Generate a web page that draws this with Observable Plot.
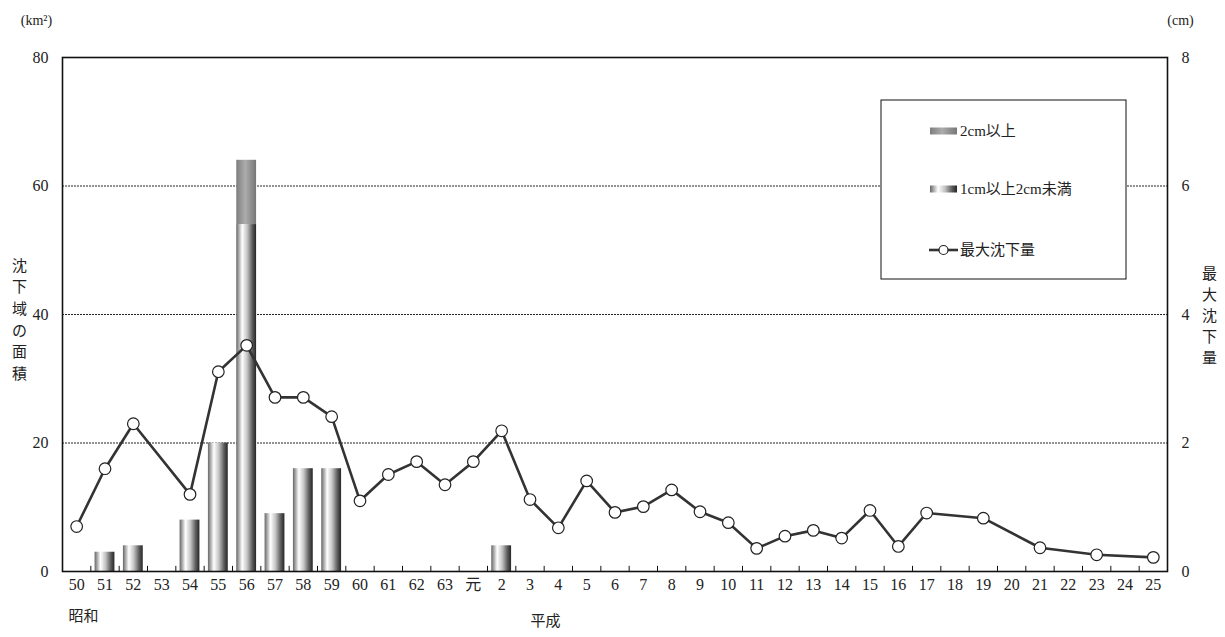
<!DOCTYPE html>
<html>
<head>
<meta charset="utf-8">
<script src="https://cdn.jsdelivr.net/npm/d3@7"></script>
<script src="https://cdn.jsdelivr.net/npm/@observablehq/plot@0.6"></script>
<style>
  html, body { margin: 0; padding: 0; background: #fff; }
  #chart svg { display: block; }
</style>
</head>
<body>
<div id="chart"></div>
<script>
// ---- data ----
const years = ["50","51","52","53","54","55","56","57","58","59","60","61","62","63","元",
  "2","3","4","5","6","7","8","9","10","11","12","13","14","15","16","17","18","19","20","21","22","23","24","25"];
// 沈下域の面積 (km2): 1cm以上2cm未満
const area1to2 = [0,3,4,0,8,20,54,9,16,16,0,0,0,0,0,
  4,0,0,0,0,0,0,0,0,0,0,0,0,0,0,0,0,0,0,0,0,0,0,0];
// 沈下域の面積 (km2): 2cm以上
const area2plus = [0,0,0,0,0,0,10,0,0,0,0,0,0,0,0,
  0,0,0,0,0,0,0,0,0,0,0,0,0,0,0,0,0,0,0,0,0,0,0,0];
// 最大沈下量 (cm), null = 欠測
const maxSub = [0.70,1.60,2.30,null,1.20,3.11,3.52,2.71,2.71,2.41,1.10,1.51,1.71,1.35,1.71,
  2.19,1.12,0.68,1.41,0.92,1.01,1.27,0.93,0.76,0.36,0.55,0.64,0.52,0.95,0.39,0.91,null,0.83,null,0.37,null,0.26,null,0.22];
const leftTicks = [0,20,40,60,80];
const rightTickLabels = ["0","2","4","6","8"];
const gridValues = [20,40,60];

const FONT = '"Liberation Serif", "DejaVu Serif", "Noto Sans CJK JP", serif';

const rows = years.map((y, i) => ({year: y, mid: area1to2[i], high: area2plus[i], sub: maxSub[i]}));
const barRows = rows.filter(d => d.mid > 0);
const highRows = rows.filter(d => d.high > 0);
const lineRows = rows.filter(d => d.sub != null);
const boundaryRows = rows.slice(1);

const W = 1225, H = 637;
const mL = 62, mR = 58, mT = 57, mB = 66;
const step = (W - mL - mR) / years.length;

const chart = Plot.plot({
  width: W,
  height: H,
  marginLeft: mL,
  marginRight: mR,
  marginTop: mT,
  marginBottom: mB,
  style: {fontFamily: FONT, fontSize: "16px", color: "#222", background: "#fff"},
  x: {domain: years, paddingInner: 0.3, paddingOuter: 0.15, round: false, label: null},
  y: {domain: [0, 80], label: null},
  marks: [
    Plot.ruleY(gridValues, {stroke: "#222", strokeWidth: 1, strokeDasharray: "2,1"}),
    Plot.barY(barRows, {x: "year", y: "mid", fill: "url(#gMid)"}),
    Plot.barY(highRows, {x: "year", y1: "mid", y2: d => d.mid + d.high, fill: "url(#gHigh)"}),
    Plot.ruleX(boundaryRows, {x: "year", y1: 0, y2: 0.8, dx: -step / 2, stroke: "#111", strokeWidth: 1}),
    Plot.line(lineRows, {x: "year", y: d => d.sub * 10, stroke: "#333", strokeWidth: 2.6}),
    Plot.dot(lineRows, {x: "year", y: d => d.sub * 10, r: 5.8, fill: "#fff", stroke: "#222", strokeWidth: 1.2}),
    Plot.axisX({tickSize: 0, tickPadding: 7, fontSize: 16}),
    Plot.axisY(leftTicks, {anchor: "left", tickSize: 0, tickPadding: 14, fontSize: 16}),
    Plot.axisY(leftTicks, {anchor: "right", tickSize: 0, tickPadding: 14, fontSize: 16,
      tickFormat: d => rightTickLabels[leftTicks.indexOf(d)]}),
    Plot.frame({stroke: "#111", strokeWidth: 1.6}),
    // unit labels and titles
    Plot.text(["(km²)"], {frameAnchor: "top-left", dx: -26, dy: -42, fontSize: 14, textAnchor: "middle"}),
    Plot.text(["(cm)"], {frameAnchor: "top-right", dx: 13, dy: -42, fontSize: 14, textAnchor: "middle"}),
    Plot.text(["沈\n下\n域\nの\n面\n積"], {frameAnchor: "top-left", dx: -43, dy: 198, fontSize: 15, lineHeight: 1.44, lineAnchor: "top", textAnchor: "middle"}),
    Plot.text(["最\n大\n沈\n下\n量"], {frameAnchor: "top-right", dx: 42, dy: 207, fontSize: 15, lineHeight: 1.4, lineAnchor: "top", textAnchor: "middle"}),
    Plot.text(["昭和"], {frameAnchor: "bottom-left", dx: 6, dy: 49, fontSize: 15, textAnchor: "start"}),
    Plot.text(["平成"], {frameAnchor: "bottom-left", dx: 468, dy: 54, fontSize: 15, textAnchor: "start"})
  ]
});

const svg = d3.select(chart);
const defs = svg.insert("defs", ":first-child");
const gMid = defs.append("linearGradient").attr("id", "gMid").attr("x1", "0").attr("x2", "1").attr("y1", "0").attr("y2", "0");
[[0, "#666666"], [0.3, "#ffffff"], [0.55, "#c4c4c4"], [0.82, "#5a5a5a"], [1, "#262626"]].forEach(([o, c]) =>
  gMid.append("stop").attr("offset", o).attr("stop-color", c));
const gHigh = defs.append("linearGradient").attr("id", "gHigh").attr("x1", "0").attr("x2", "1").attr("y1", "0").attr("y2", "0");
[[0, "#7e7e7e"], [0.45, "#acacac"], [1, "#767676"]].forEach(([o, c]) =>
  gHigh.append("stop").attr("offset", o).attr("stop-color", c));

// legend box
const lg = svg.append("g").attr("font-family", FONT).attr("font-size", 15).attr("fill", "#222").attr("text-anchor", "start");
lg.append("rect").attr("x", 881).attr("y", 100).attr("width", 245).attr("height", 179)
  .attr("fill", "#fff").attr("stroke", "#111").attr("stroke-width", 1);
const legendItems = [
  {label: "2cm以上", type: "bar", fill: "url(#gHigh)", y: 131},
  {label: "1cm以上2cm未満", type: "bar", fill: "url(#gMid)", y: 189},
  {label: "最大沈下量", type: "line", y: 250}
];
legendItems.forEach(it => {
  if (it.type === "bar") {
    lg.append("rect").attr("x", 930).attr("y", it.y - 3.5).attr("width", 27).attr("height", 7).attr("fill", it.fill);
  } else {
    lg.append("line").attr("x1", 929).attr("x2", 958).attr("y1", it.y).attr("y2", it.y).attr("stroke", "#333").attr("stroke-width", 2.6);
    lg.append("circle").attr("cx", 943.5).attr("cy", it.y).attr("r", 4.5).attr("fill", "#fff").attr("stroke", "#222").attr("stroke-width", 1.2);
  }
  lg.append("text").attr("x", 960).attr("y", it.y).attr("dy", "0.35em").attr("text-anchor", "start").text(it.label);
});

document.getElementById("chart").appendChild(chart);
</script>
</body>
</html>
